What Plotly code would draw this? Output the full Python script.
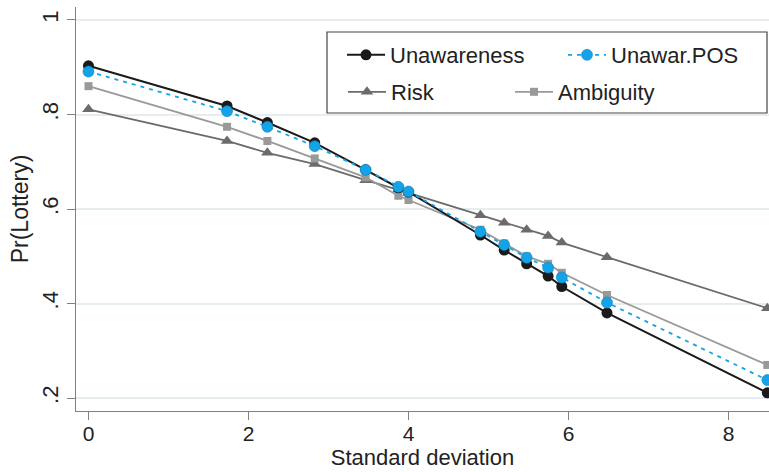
import plotly.graph_objects as go

# ---- data ----
std_dev = [0.0, 1.732, 2.236, 2.828, 3.464, 3.873, 4.0, 4.899, 5.196, 5.477, 5.745, 5.916, 6.481, 8.485]
unawareness = [0.903, 0.818, 0.783, 0.740, 0.683, 0.645, 0.636, 0.545, 0.513, 0.484, 0.458, 0.436, 0.380, 0.211]
unawar_pos = [0.891, 0.807, 0.774, 0.733, 0.683, 0.647, 0.637, 0.552, 0.524, 0.497, 0.476, 0.455, 0.402, 0.238]
risk = [0.811, 0.744, 0.719, 0.695, 0.661, 0.641, 0.634, 0.587, 0.571, 0.556, 0.543, 0.529, 0.498, 0.390]
ambiguity = [0.860, 0.774, 0.744, 0.707, 0.667, 0.628, 0.619, 0.556, 0.527, 0.500, 0.484, 0.465, 0.418, 0.270]

x_ticks = [0, 2, 4, 6, 8]
y_ticks = [0.2, 0.4, 0.6, 0.8, 1.0]
y_tick_labels = [".2", ".4", ".6", ".8", "1"]

FONT = "Liberation Sans, Arial, sans-serif"
TXT = "#222222"
W, H = 769, 472

fig = go.Figure()

fig.add_trace(go.Scatter(
    x=std_dev, y=risk, name="Risk", mode="lines+markers",
    line=dict(color="#6b6b6b", width=1.8),
    marker=dict(symbol="triangle-up", size=11, color="#6b6b6b"),
    legend="legend3"))
fig.add_trace(go.Scatter(
    x=std_dev, y=ambiguity, name="Ambiguity", mode="lines+markers",
    line=dict(color="#999999", width=1.8),
    marker=dict(symbol="square", size=8, color="#999999"),
    legend="legend4"))
fig.add_trace(go.Scatter(
    x=std_dev, y=unawareness, name="Unawareness", mode="lines+markers",
    line=dict(color="#1a1a1a", width=2),
    marker=dict(symbol="circle", size=11, color="#1a1a1a"),
    legend="legend"))
fig.add_trace(go.Scatter(
    x=std_dev, y=unawar_pos, name="Unawar.POS", mode="lines+markers",
    line=dict(color="#14a3e6", width=1.8, dash="4px,5px"),
    marker=dict(symbol="circle", size=11, color="#14a3e6",
                line=dict(color="#0d86c4", width=0.6)),
    legend="legend2"))

# plot-area geometry (pixels)
L_, R_, T_, B_ = 76, 769, 7, 411


def px_x(p):
    return (p - L_) / (R_ - L_)


def px_y(p):
    return (B_ - p) / (B_ - T_)


def leg(xpx, ypx):
    return dict(xref="paper", yref="paper", x=px_x(xpx), y=px_y(ypx),
                xanchor="left", yanchor="middle", bgcolor="rgba(0,0,0,0)",
                borderwidth=0, itemwidth=38,
                font=dict(family=FONT, size=22, color=TXT))


fig.update_layout(
    width=W, height=H, autosize=False,
    margin=dict(l=L_, r=W - R_, t=T_, b=H - B_, pad=0),
    paper_bgcolor="white", plot_bgcolor="white",
    font=dict(family=FONT, size=22, color=TXT),
    showlegend=True,
    legend=leg(342, 55),
    legend2=leg(563, 55),
    legend3=leg(343, 92),
    legend4=leg(510, 92),
    xaxis=dict(
        range=[-0.156, 8.506], tickmode="array", tickvals=x_ticks,
        ticks="outside", ticklen=8, tickwidth=1.3, tickcolor="#808080",
        showline=True, linecolor="#808080", linewidth=1.3,
        showgrid=False, zeroline=False, ticklabelstandoff=-4,
        tickfont=dict(family=FONT, size=21, color=TXT),
        title=dict(text="Standard deviation", standoff=5,
                   font=dict(family=FONT, size=22, color=TXT))),
    yaxis=dict(
        range=[0.1725, 1.0275], tickmode="array", tickvals=y_ticks,
        ticktext=y_tick_labels, tickangle=-90,
        ticks="outside", ticklen=8, tickwidth=1.3, tickcolor="#808080",
        showline=True, linecolor="#808080", linewidth=1.3,
        showgrid=True, gridcolor="#e6edf1", gridwidth=1.6, zeroline=False,
        tickfont=dict(family=FONT, size=22, color=TXT),
        title=dict(text="Pr(Lottery)", standoff=2,
                   font=dict(family=FONT, size=23, color=TXT))),
    shapes=[dict(type="rect", xref="paper", yref="paper",
                 x0=px_x(327), x1=px_x(767),
                 y0=px_y(113), y1=px_y(32),
                 line=dict(color="#444444", width=1.2),
                 fillcolor="white", layer="above")],
)

fig.write_html("out.html", config={"displayModeBar": False},
               post_script="document.body.style.margin='0';")
